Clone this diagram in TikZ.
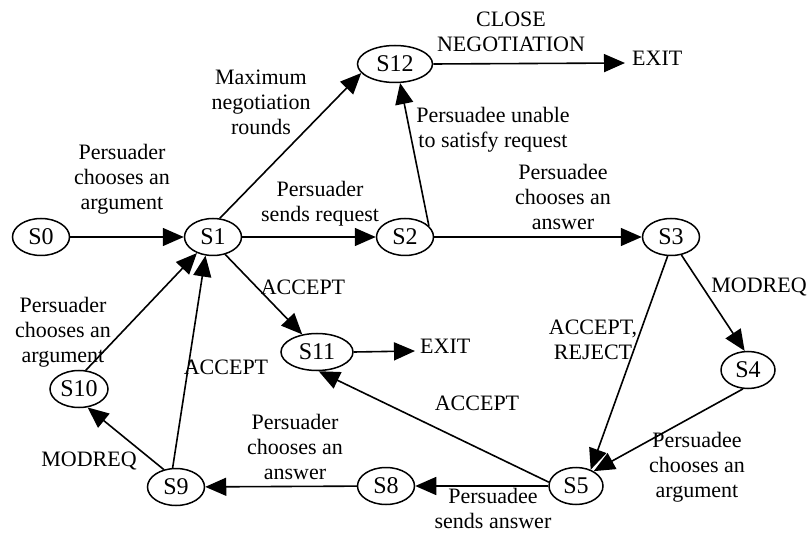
\documentclass[tikz,border=0pt]{standalone}
\usepackage{fontspec}
\setmainfont{Liberation Serif}
\usetikzlibrary{shapes.geometric,arrows.meta}
\tikzset{
  state/.style={ellipse,draw,line width=1.5pt,minimum width=57pt,minimum height=37pt,inner sep=0pt,font=\fontsize{24}{26}\selectfont},
  lbl/.style={align=center,inner sep=0pt,font=\fontsize{22}{25}\selectfont},
  arr/.style={line width=1.6pt,-{Triangle[length=21pt,width=18pt]}}
}
\begin{document}
\begin{tikzpicture}[x=1pt,y=-1pt]
\useasboundingbox (0,0) rectangle (808,534);
% states
\node[state] (S0) at (41,237) {S0};
\node[state] (S1) at (213,237) {S1};
\node[state] (S2) at (405,237) {S2};
\node[state] (S3) at (671,237) {S3};
\node[state] (S12) at (395,64) [minimum width=75pt] {S12};
\node[state] (S4) at (748,370) [minimum width=54pt] {S4};
\node[state] (S5) at (576,486) [minimum width=54pt] {S5};
\node[state] (S8) at (386,486) {S8};
\node[state] (S9) at (176,487) {S9};
\node[state] (S10) at (79,389) [minimum width=58pt] {S10};
\node[state] (S11) at (317,352) [minimum width=72pt] {S11};
\node[lbl,anchor=west] (X1) at (632,58) {EXIT};
\node[lbl,anchor=west] (X2) at (420,346) {EXIT};
% edges
\draw[arr] (S0) -- (S1);
\draw[arr] (S1.70) -- (S12.195);
\draw[arr] (S1) -- (S2);
\draw[arr] (S2.25) -- (S12.-75);
\draw[arr] (S2) -- (S3);
\draw[arr] (S12.east) -- ([xshift=-7pt,yshift=-5pt]X1.west);
\draw[arr] (S11.east) -- ([xshift=-5pt,yshift=-5pt]X2.west);
\draw[arr] (S3.-60) -- (S4.100);
\draw[arr] (S3.-100) -- (S5.48);
\draw[arr] (S4.-105) -- (S5.40);
\draw[arr] (S5) -- (S8);
\draw[arr] (S5.172) -- (S11.-85);
\draw[arr] (S8) -- (S9);
\draw[arr] (S9.125) -- (S10.-65);
\draw[arr] (S9.100) -- (S1.-112);
\draw[arr] (S10.70) -- (S1.-135);
\draw[arr] (S1.-55) -- (S11.130);
% labels
\node[lbl] (L1) at (122,179) {Persuader\\chooses an\\argument};
\node[lbl] (L2) at (261,102) {Maximum\\negotiation\\rounds};
\node[lbl] (L3) at (320,204) {Persuader\\sends request};
\node[lbl] (L4) at (493,130) {Persuadee unable\\to satisfy request};
\node[lbl] (L5) at (563,197) {Persuadee\\chooses an\\answer};
\node[lbl] (L6) at (511,32) {CLOSE\\NEGOTIATION};
\node[lbl] (L7) at (759,287) {MODREQ};
\node[lbl] (L8) at (593,340) {ACCEPT,\\REJECT};
\node[lbl] (L9) at (697,467) {Persuadee\\chooses an\\argument};
\node[lbl] (L10) at (493,508) {Persuadee\\sends answer};
\node[lbl] (L11) at (477,403) {ACCEPT};
\node[lbl] (L12) at (295,447) {Persuader\\chooses an\\answer};
\node[lbl] (L13) at (89,461) {MODREQ};
\node[lbl] (L14) at (226,367) {ACCEPT};
\node[lbl] (L15) at (63,332) {Persuader\\chooses an\\argument};
\node[lbl] (L16) at (303,287) {ACCEPT};
\end{tikzpicture}
\end{document}
